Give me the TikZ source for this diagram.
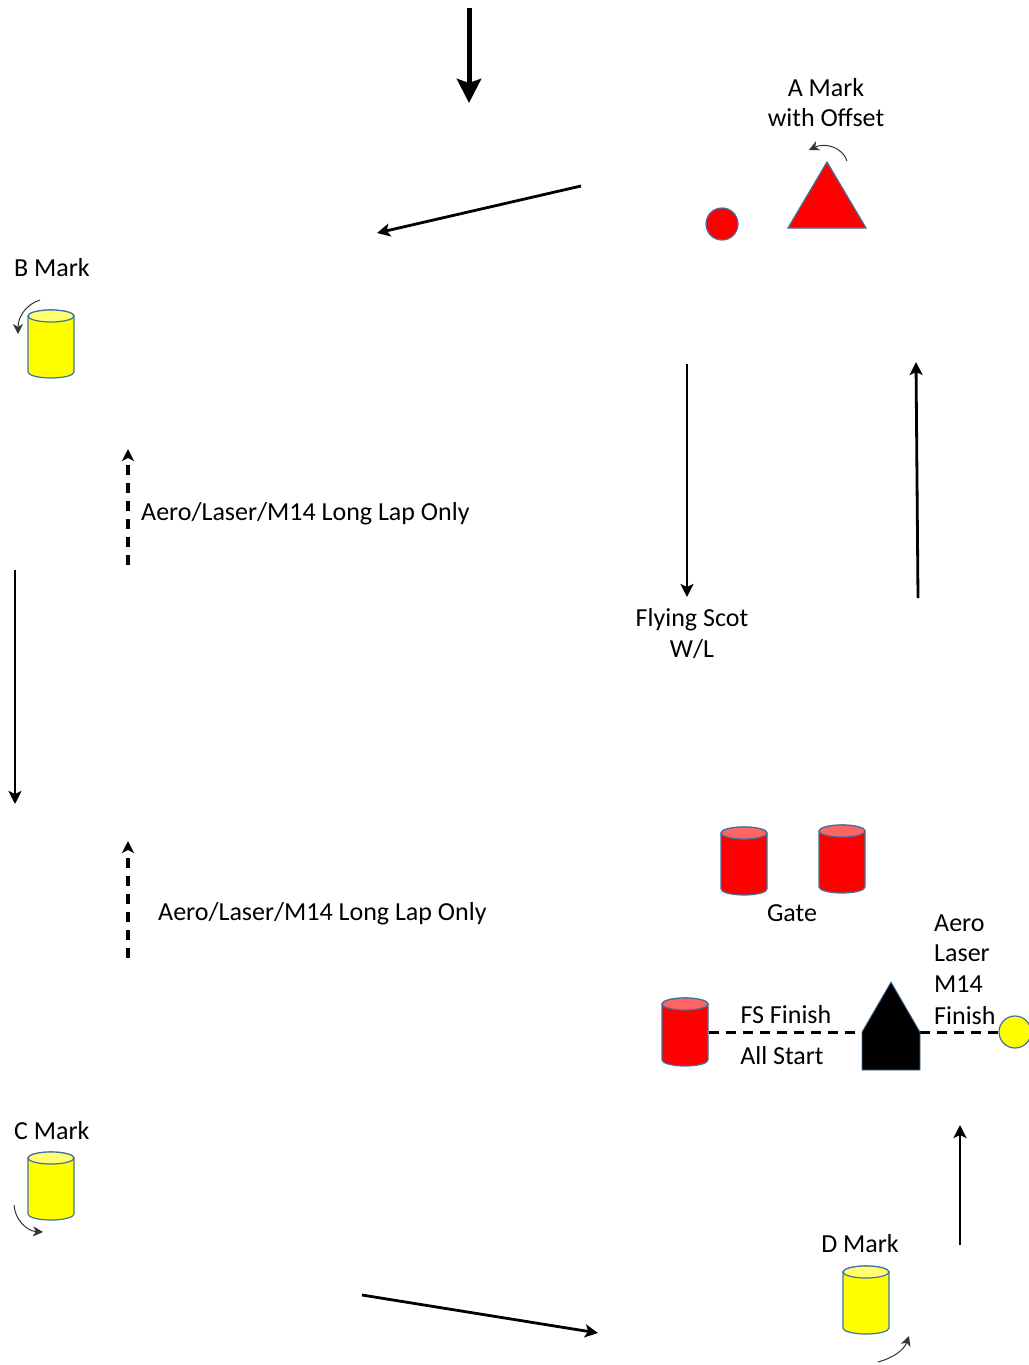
\documentclass[tikz,border=0pt]{standalone}
\usepackage{fontspec}
\setmainfont{Carlito}
\usetikzlibrary{arrows.meta}
\definecolor{edge}{HTML}{41719C}
\definecolor{ybody}{HTML}{FFFF00}
\definecolor{ytop}{HTML}{FFFF70}
\definecolor{rbody}{HTML}{FF0000}
\definecolor{rtop}{HTML}{FF6464}
\tikzset{
  pics/cyl/.style 2 args={code={
    \filldraw[fill=#1, draw=edge, line width=1.2] (-23,-28) -- (-23,28)
      arc[start angle=180, end angle=0, x radius=23, y radius=6] -- (23,-28)
      arc[start angle=0, end angle=-180, x radius=23, y radius=6] -- cycle;
    \filldraw[fill=#2, draw=edge, line width=1.2] (0,-28) ellipse[x radius=23, y radius=6];
  }},
  lbl/.style={anchor=base, inner sep=0},
  lblL/.style={anchor=base west, inner sep=0},
  course/.style={line width=2.8, -{Stealth[length=13, width=13, inset=3]}},
  longlap/.style={line width=3.2, dash pattern=on 10 off 8, -{Stealth[length=12, width=12, inset=3]}},
  turn/.style={line width=1, draw=black!80, -{Stealth[length=10, width=10, inset=3]}},
  finishline/.style={line width=3, dash pattern=on 10 off 7},
  markshape/.style={fill=rbody, draw=edge, line width=1.2},
}
\begin{document}
\begin{tikzpicture}[x=1pt, y=-1pt, font=\fontsize{26}{31}\selectfont]
\useasboundingbox (0,0) rectangle (1028,1365);

% wind arrow
\coordinate (w1) at (469,8);
\coordinate (w2) at (469,103);
\draw[line width=5, -{Stealth[length=24, width=24, inset=4]}] (w1) -- (w2);

% A mark
\node[lbl] (atext1) at (826,96) {A Mark};
\node[lbl] (atext2) at (826,126) {with Offset};
\filldraw[markshape] (827,162) -- (866,228) -- (788,228) -- cycle;
\coordinate (amark) at (827,200);
\filldraw[markshape] (722,224) circle[radius=16];
\coordinate (offset) at (722,224);
\coordinate (at1) at (847,161);
\coordinate (at2) at (809,150);
\draw[turn] (at1) .. controls (843,148) and (826,142) .. (at2);

% leg A -> B
\coordinate (ab1) at (581,186);
\coordinate (ab2) at (377,233);
\draw[course] (ab1) -- (ab2);

% B mark
\node[lblL] (btext) at (14,276) {B Mark};
\pic at (51,344) {cyl={ybody}{ytop}};
\coordinate (bt1) at (40,300);
\coordinate (bt2) at (18,334);
\draw[turn] (bt1) .. controls (27,304) and (18,316) .. (bt2);

% long lap arrows
\coordinate (l1a) at (128,565);
\coordinate (l1b) at (128,449);
\draw[longlap] (l1a) -- (l1b);
\node[lblL] (ll1) at (141,520) {Aero/Laser/M14 Long Lap Only};
\coordinate (l2a) at (128,958);
\coordinate (l2b) at (128,841);
\draw[longlap] (l2a) -- (l2b);
\node[lblL] (ll2) at (158,920) {Aero/Laser/M14 Long Lap Only};

% B -> C leg
\coordinate (bc1) at (15,570);
\coordinate (bc2) at (15,804);
\draw[course] (bc1) -- (bc2);

% Flying Scot W/L
\coordinate (fs1) at (687,364);
\coordinate (fs2) at (687,597);
\draw[course] (fs1) -- (fs2);
\node[lbl] (fstext1) at (692,626) {Flying Scot};
\node[lbl] (fstext2) at (692,657) {W/L};

\coordinate (up1) at (918,598);
\coordinate (up2) at (916,362);
\draw[course] (up1) -- (up2);

% Gate
\pic at (744,861) {cyl={rbody}{rtop}};
\pic at (842,859) {cyl={rbody}{rtop}};
\node[lbl] (gate) at (792,921) {Gate};

% start / finish
\pic at (685,1032) {cyl={rbody}{rtop}};
\coordinate (pin) at (709,1032);
\coordinate (boatL) at (862,1032);
\coordinate (boatR) at (920,1032);
\coordinate (ybuoy) at (999,1032);
\draw[finishline] (pin) -- (boatL);
\draw[finishline] (boatR) -- (ybuoy);
\filldraw[fill=black, draw=edge, line width=0.8] (862,1032) -- (891,982) -- (920,1032) -- (920,1070) -- (862,1070) -- cycle;
\filldraw[fill=ybody, draw=edge, line width=1.2] (1015,1032) circle[radius=16];
\node[lbl] (fsf) at (786,1023) {FS Finish};
\node[lbl] (alls) at (782,1064) {All Start};
\node[lblL] (alf1) at (934,931) {Aero};
\node[lblL] (alf2) at (934,961) {Laser};
\node[lblL] (alf3) at (934,992) {M14};
\node[lblL] (alf4) at (934,1024) {Finish};

% C mark
\node[lblL] (ctext) at (14,1139) {C Mark};
\pic at (51,1186) {cyl={ybody}{ytop}};
\coordinate (ct1) at (14,1205);
\coordinate (ct2) at (43,1232);
\draw[turn] (ct1) .. controls (15,1220) and (27,1231) .. (ct2);

% C -> D leg
\coordinate (cd1) at (362,1295);
\coordinate (cd2) at (598,1333);
\draw[course] (cd1) -- (cd2);

% D mark
\node[lbl] (dtext) at (860,1252) {D Mark};
\pic at (866,1300) {cyl={ybody}{ytop}};
\coordinate (dt1) at (878,1362);
\coordinate (dt2) at (909,1336);
\draw[turn] (dt1) .. controls (893,1358) and (904,1350) .. (dt2);

\coordinate (df1) at (960,1245);
\coordinate (df2) at (960,1125);
\draw[course] (df1) -- (df2);
\end{tikzpicture}
\end{document}
